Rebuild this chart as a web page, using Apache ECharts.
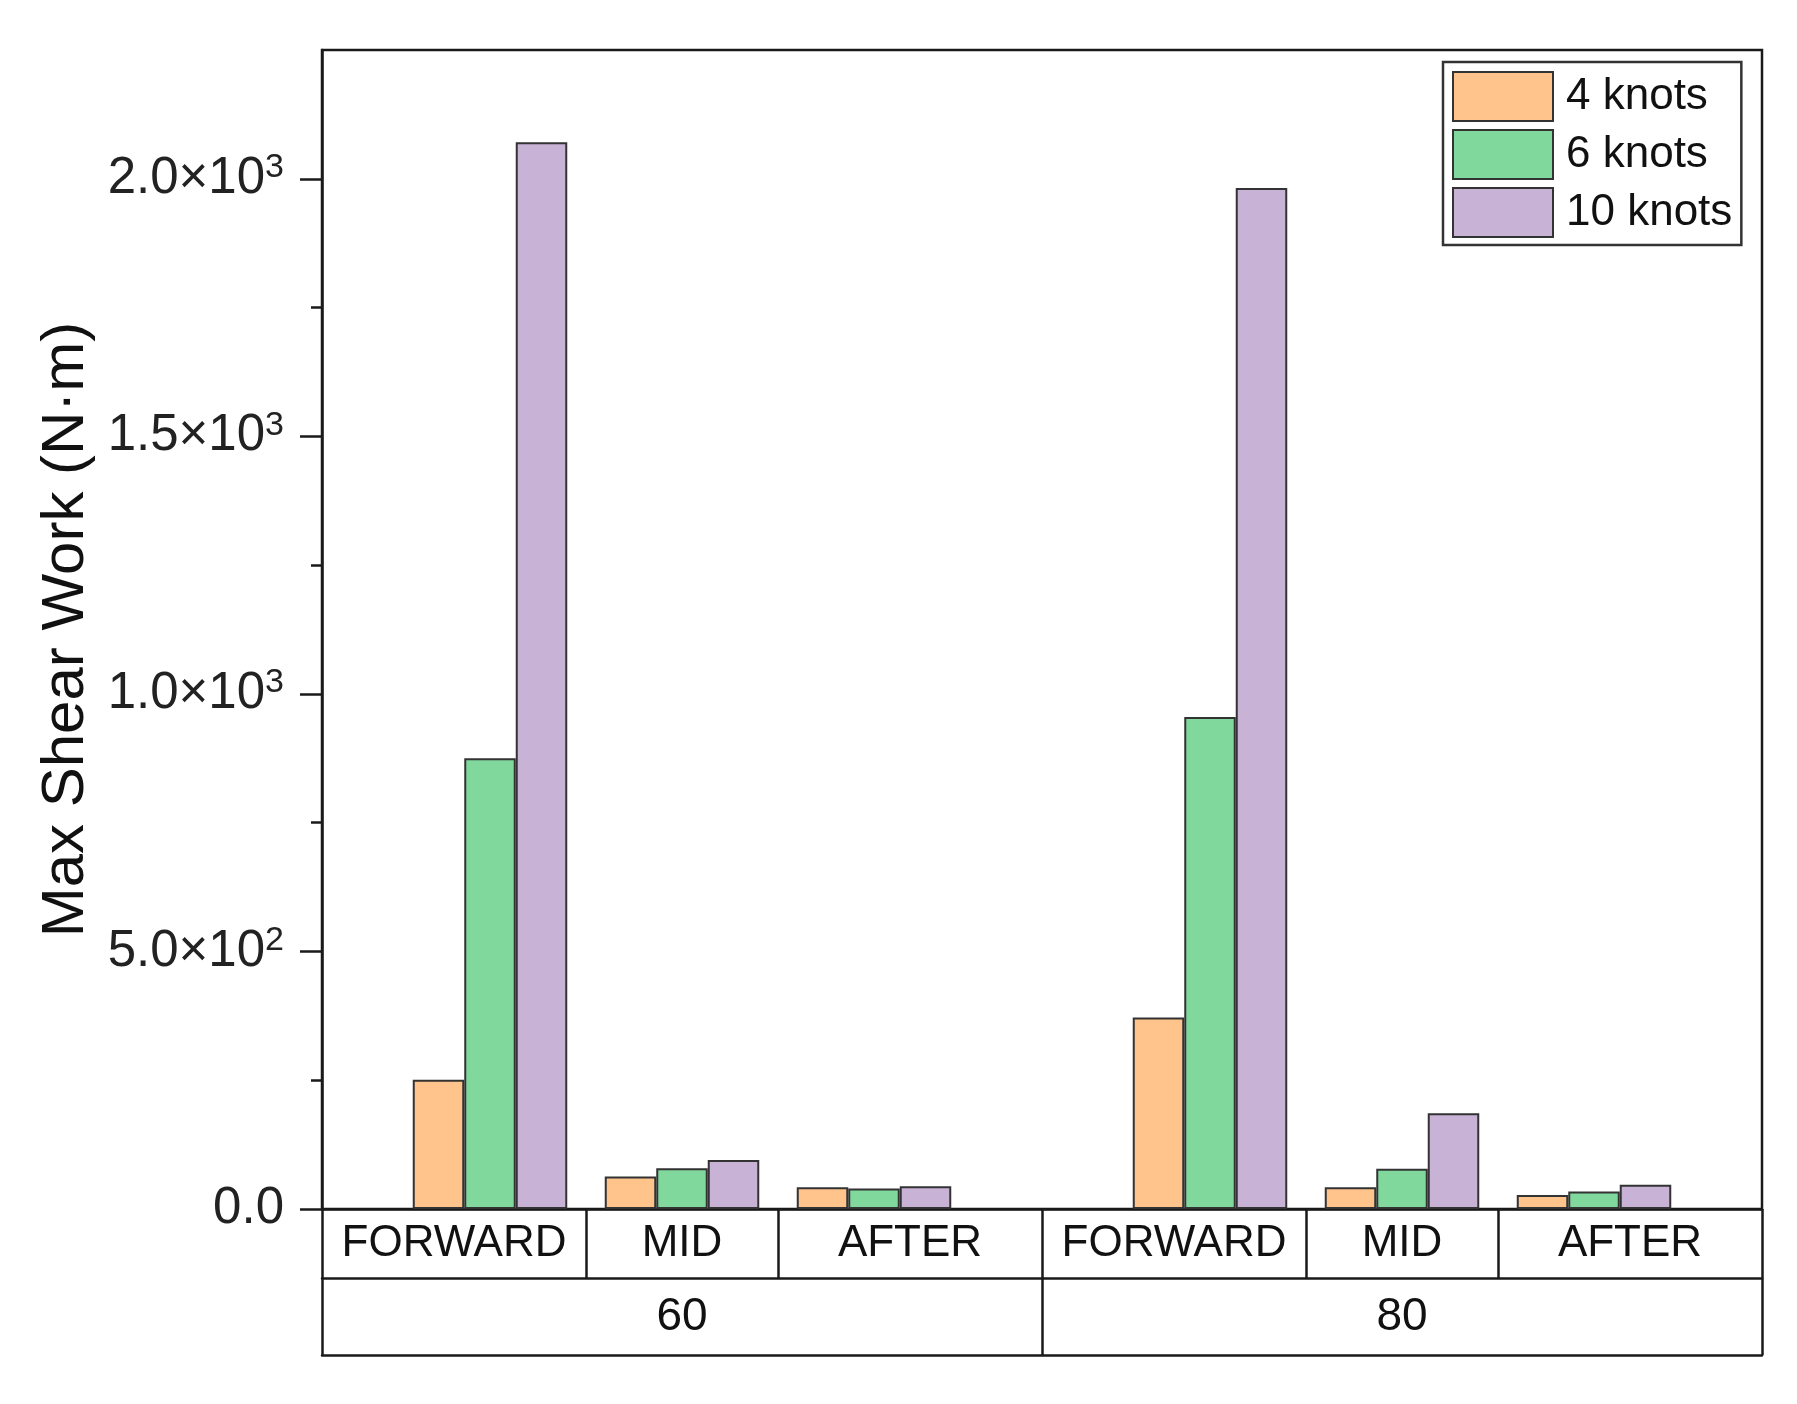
<!DOCTYPE html>
<html>
<head>
<meta charset="utf-8">
<script src="https://cdn.jsdelivr.net/npm/echarts@6/dist/echarts.min.js"></script>
<style>
html,body{margin:0;padding:0;background:#fff;}
#chart{width:1797px;height:1404px;}
</style>
</head>
<body>
<div id="chart"></div>
<script>
// ---- data ----
var groups = ['60', '80'];
var positions = ['FORWARD', 'MID', 'AFTER'];
var seriesNames = ['4 knots', '6 knots', '10 knots'];
var knots4 = [251, 63, 42, 372, 42, 27];
var knots6 = [875, 79, 40, 955, 78, 34];
var knots10 = [2071, 95, 44, 1982, 186, 47];
var yTicks = [0, 500, 1000, 1500, 2000];
var yMinorTicks = [250, 750, 1250, 1750];

// x layout in axis units: each group spans 3.75 units, categories 1 unit apart
var groupSpan = 3.75, pad = 0.875;
var catX = [], cellEdges = [0], cellCenters = [], cellNames = [];
var groupEdges = [0], groupCenters = [];
groups.forEach(function (g, gi) {
  var g0 = gi * groupSpan;
  positions.forEach(function (p, pi) {
    catX.push(g0 + pad + pi);
  });
  var edges = [g0, g0 + pad + 0.5, g0 + pad + 1.5, g0 + groupSpan];
  for (var k = 0; k < 3; k++) {
    cellCenters.push((edges[k] + edges[k + 1]) / 2);
    cellNames.push(positions[k]);
    cellEdges.push(edges[k + 1]);
  }
  groupEdges.push(g0 + groupSpan);
  groupCenters.push(g0 + groupSpan / 2);
});
var xMax = groups.length * groupSpan;

function lookup(values, names, v) {
  for (var i = 0; i < values.length; i++) if (Math.abs(values[i] - v) < 1e-6) return names[i];
  return '';
}
function fmtY(v) {
  if (v === 0) return '{a|0.0}';
  var e = Math.floor(Math.log10(v));
  var m = (v / Math.pow(10, e)).toFixed(1);
  return '{a|' + m + '×10}{b|' + e + '}';
}

var colors = ['#FFC38C', '#80D89C', '#C8B3D7'];
var dataSets = [knots4, knots6, knots10];
var FONT = 'Liberation Sans, Arial, sans-serif';
var LINE = '#1a1a1a';

var series = seriesNames.map(function (n, i) {
  return {
    name: n,
    type: 'bar',
    barWidth: 51.5,
    barGap: '0%',
    data: dataSets[i].map(function (v, j) { return [catX[j], v]; }),
    itemStyle: { color: colors[i], borderColor: '#333', borderWidth: 2 },
    emphasis: { disabled: true }
  };
});

var chart = echarts.init(document.getElementById('chart'));
chart.setOption({
  animation: false,
  backgroundColor: '#fff',
  grid: {
    left: 322, top: 50, right: 35, bottom: 195,
    show: true, borderColor: LINE, borderWidth: 2.5, backgroundColor: 'transparent'
  },
  legend: {
    orient: 'vertical',
    left: 1443, top: 62,
    padding: [9, 9, 7, 9],
    itemWidth: 100, itemHeight: 49, itemGap: 7,
    borderColor: '#333', borderWidth: 2.5,
    icon: 'rect',
    selectedMode: false,
    textStyle: { fontFamily: FONT, fontSize: 44, color: '#111', padding: [0, 0, 0, 8] },
    data: seriesNames
  },
  xAxis: [
    {
      type: 'value', min: 0, max: xMax, position: 'bottom',
      axisLine: { show: true, onZero: false, lineStyle: { color: LINE, width: 2.5 } },
      axisTick: { show: false }, axisLabel: { show: false }, splitLine: { show: false }
    },
    {
      type: 'value', min: 0, max: xMax, position: 'bottom', offset: 69,
      axisLine: { show: true, onZero: false, lineStyle: { color: LINE, width: 2.5 } },
      axisTick: { show: true, inside: true, length: 69, customValues: cellEdges, lineStyle: { color: LINE, width: 2.5 } },
      axisLabel: {
        show: true, inside: true, margin: 34, verticalAlign: 'middle',
        customValues: cellCenters,
        formatter: function (v) { return lookup(cellCenters, cellNames, v); },
        fontFamily: FONT, fontSize: 44, color: '#111'
      },
      splitLine: { show: false }
    },
    {
      type: 'value', min: 0, max: xMax, position: 'bottom', offset: 146,
      axisLine: { show: true, onZero: false, lineStyle: { color: LINE, width: 2.5 } },
      axisTick: { show: true, inside: true, length: 77, customValues: groupEdges, lineStyle: { color: LINE, width: 2.5 } },
      axisLabel: {
        show: true, inside: true, margin: 38, verticalAlign: 'middle',
        customValues: groupCenters,
        formatter: function (v) { return lookup(groupCenters, groups, v); },
        fontFamily: FONT, fontSize: 46, color: '#111'
      },
      splitLine: { show: false }
    }
  ],
  yAxis: [
    {
      type: 'value', min: 0, max: 2250, position: 'left',
      name: 'Max Shear Work (N·m)', nameLocation: 'middle', nameRotate: 90, nameGap: 222,
      nameTextStyle: { fontFamily: FONT, fontSize: 60, color: '#111' },
      axisLine: { show: true, lineStyle: { color: LINE, width: 2.5 } },
      axisTick: { show: true, length: 22, customValues: yTicks, lineStyle: { color: LINE, width: 2.5 } },
      axisLabel: {
        show: true, margin: 38, customValues: yTicks, formatter: fmtY,
        rich: {
          a: { fontFamily: FONT, fontSize: 51, color: '#222', lineHeight: 56 },
          b: { fontFamily: FONT, fontSize: 34, color: '#222', verticalAlign: 'top', lineHeight: 56 }
        }
      },
      splitLine: { show: false }
    },
    {
      type: 'value', min: 0, max: 2250, position: 'left',
      axisLine: { show: false },
      axisTick: { show: true, length: 11, customValues: yMinorTicks, lineStyle: { color: LINE, width: 2.5 } },
      axisLabel: { show: false },
      splitLine: { show: false }
    }
  ],
  series: series
});
</script>
</body>
</html>
